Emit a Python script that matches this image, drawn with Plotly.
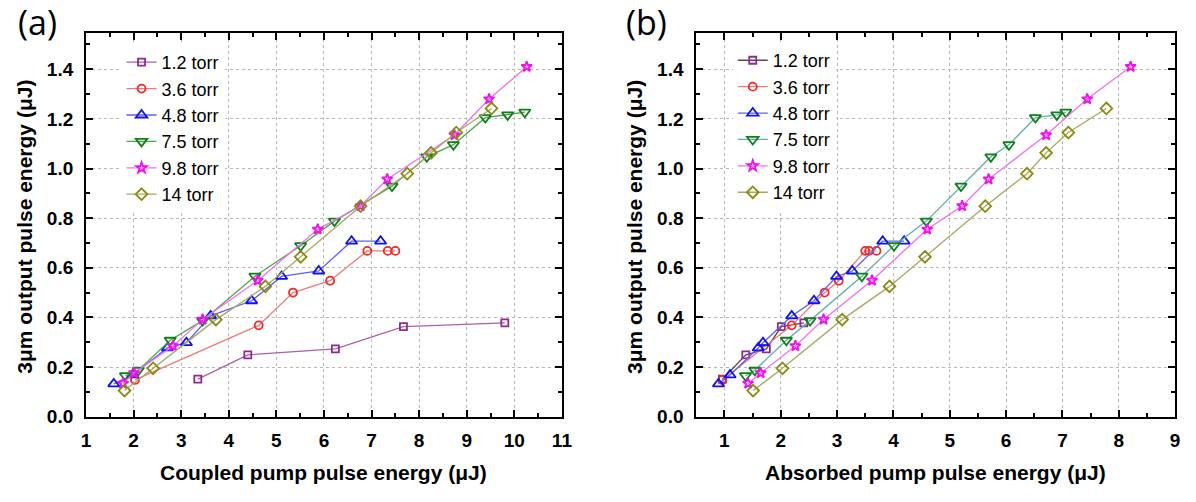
import plotly.graph_objects as go

# Output pulse energy (uJ) for each gas pressure
labels = ["1.2 torr", "3.6 torr", "4.8 torr", "7.5 torr", "9.8 torr", "14 torr"]

y_12 = [0.151, 0.249, 0.273, 0.363, 0.378]
y_36 = [0.148, 0.368, 0.500, 0.548, 0.668, 0.668, 0.668]
y_48 = [0.132, 0.168, 0.277, 0.298, 0.406, 0.467, 0.565, 0.587, 0.707, 0.707]
y_75 = [0.165, 0.187, 0.308, 0.387, 0.566, 0.689, 0.788, 0.929, 1.047, 1.096, 1.205, 1.216, 1.227]
y_98 = [0.134, 0.176, 0.285, 0.392, 0.549, 0.755, 0.849, 0.957, 1.135, 1.280, 1.410]
y_14 = [0.105, 0.195, 0.391, 0.525, 0.644, 0.848, 0.979, 1.063, 1.145, 1.242]

# Coupled pump pulse energy (uJ)
xa_12 = [3.35, 4.40, 6.24, 7.67, 9.80]
xa_36 = [2.03, 4.63, 5.35, 6.13, 6.91, 7.34, 7.50]
xa_48 = [1.585, 1.98, 2.71, 3.11, 3.62, 4.48, 5.11, 5.89, 6.58, 7.19]
xa_75 = [1.83, 2.10, 2.77, 3.45, 4.55, 5.51, 6.22, 7.43, 8.16, 8.72, 9.39, 9.86, 10.22]
xa_98 = [1.78, 2.01, 2.83, 3.45, 4.61, 5.87, 6.77, 7.33, 8.74, 9.47, 10.26]
xa_14 = [1.81, 2.41, 3.73, 4.77, 5.51, 6.77, 7.75, 8.25, 8.78, 9.52]

# Absorbed pump pulse energy (uJ)
xb_12 = [0.965, 1.38, 1.745, 2.01, 2.41]
xb_36 = [0.965, 2.195, 2.78, 3.03, 3.50, 3.57, 3.70]
xb_48 = [0.895, 1.10, 1.60, 1.685, 2.195, 2.59, 2.99, 3.27, 3.81, 4.19]
xb_75 = [1.375, 1.54, 2.10, 2.52, 3.44, 4.01, 4.585, 5.20, 5.73, 6.05, 6.52, 6.90, 7.06]
xb_98 = [1.42, 1.645, 2.26, 2.76, 3.62, 4.60, 5.22, 5.69, 6.71, 7.44, 8.21]
xb_14 = [1.51, 2.03, 3.09, 3.93, 4.56, 5.63, 6.37, 6.71, 7.105, 7.78]

x_ticks_a = [1, 2, 3, 4, 5, 6, 7, 8, 9, 10, 11]
x_ticks_b = [1, 2, 3, 4, 5, 6, 7, 8, 9]
y_ticks = [0.0, 0.2, 0.4, 0.6, 0.8, 1.0, 1.2, 1.4]

ys = [y_12, y_36, y_48, y_75, y_98, y_14]
xas = [xa_12, xa_36, xa_48, xa_75, xa_98, xa_14]
xbs = [xb_12, xb_36, xb_48, xb_75, xb_98, xb_14]

symbols = ["square-open", "circle-open", "triangle-up-open", "triangle-down-open",
           "star-open", "diamond-open"]
sizes = [7, 8, 10, 10, 8, 9]
marker_colors = ["#8E2C8E", "#F02828", "#1010F0", "#10801A", "#F010F0", "#8A8A10"]
line_colors_a = ["#A860A8", "#F07878", "#6060F0", "#4CA84C", "#F070F0", "#A8A860"]
line_colors_b = ["#5A465A", "#F07878", "#6060F0", "#62ADAD", "#F070F0", "#A8A860"]

fig = go.Figure()

for i in range(6):
    fig.add_trace(go.Scatter(
        x=xas[i], y=ys[i], name=labels[i], mode="lines+markers",
        line=dict(color=line_colors_a[i], width=1.3),
        marker=dict(symbol=symbols[i], size=sizes[i], color=marker_colors[i],
                    line=dict(width=1.8, color=marker_colors[i])),
        xaxis="x", yaxis="y", legend="legend",
    ))
for i in range(6):
    fig.add_trace(go.Scatter(
        x=xbs[i], y=ys[i], name=labels[i], mode="lines+markers",
        line=dict(color=line_colors_b[i], width=1.3),
        marker=dict(symbol=symbols[i], size=sizes[i], color=marker_colors[i],
                    line=dict(width=1.8, color=marker_colors[i])),
        xaxis="x2", yaxis="y2", legend="legend2",
    ))

W, H = 1196, 502
tick_font = dict(family="Liberation Sans, Arial", size=19, color="black")
title_font = dict(family="Liberation Sans, Arial", size=21, color="black")

def px_x(p):
    return p / W

def px_y(p):
    return 1 - p / H

common_axis = dict(
    showline=True, linecolor="black", linewidth=1.8, mirror="ticks",
    ticks="inside", ticklen=7, tickwidth=1.8, tickcolor="black",
    showgrid=True, gridcolor="#B8B8B8", griddash="dot", gridwidth=1,
    zeroline=False, tickfont=tick_font,
)

y_dom = [px_y(426), px_y(34)]

def minor(step, start):
    return dict(dtick=step, tick0=start, ticks="inside", ticklen=4, tickcolor="black",
                tickwidth=1.5, showgrid=False)

legend_font = dict(family="Liberation Sans, Arial", size=18, color="black")

fig.update_layout(
    width=W, height=H,
    margin=dict(l=0, r=0, t=0, b=0),
    paper_bgcolor="white", plot_bgcolor="white",
    xaxis=dict(domain=[px_x(82), px_x(564)], range=[1, 11], tickvals=x_ticks_a,
               ticktext=["<b>%d</b>" % v for v in x_ticks_a],
               minor=minor(0.5, 1), ticklabelstandoff=6,
               anchor="y", **common_axis),
    yaxis=dict(domain=y_dom, range=[0, 1.545], tickvals=y_ticks,
               ticktext=["<b>%.1f</b>" % v for v in y_ticks],
               minor=minor(0.1, 0), ticklabelstandoff=7,
               anchor="x", **common_axis),
    xaxis2=dict(domain=[px_x(700), px_x(1185)], range=[0.5, 9], tickvals=x_ticks_b,
                ticktext=["<b>%d</b>" % v for v in x_ticks_b],
                minor=minor(0.5, 0.5), ticklabelstandoff=6,
                anchor="y2", **common_axis),
    yaxis2=dict(domain=y_dom, range=[0, 1.545], tickvals=y_ticks,
                ticktext=["<b>%.1f</b>" % v for v in y_ticks],
                minor=minor(0.1, 0), ticklabelstandoff=7,
                anchor="x2", **common_axis),
    legend=dict(x=px_x(118), y=px_y(45), xanchor="left", yanchor="top",
                bgcolor="white", borderwidth=0, font=legend_font,
                tracegroupgap=0, itemwidth=30),
    legend2=dict(x=px_x(737), y=px_y(43), xanchor="left", yanchor="top",
                 bgcolor="white", borderwidth=0, font=legend_font,
                 tracegroupgap=0, itemwidth=30),
    showlegend=True,
)

annotations = [
    dict(text="<b>Coupled pump pulse energy (\u03bcJ)</b>", x=px_x(323), y=px_y(483),
         xref="paper", yref="paper", showarrow=False, font=title_font,
         xanchor="center", yanchor="middle"),
    dict(text="<b>Absorbed pump pulse energy (\u03bcJ)</b>", x=px_x(942), y=px_y(483),
         xref="paper", yref="paper", showarrow=False, font=title_font,
         xanchor="center", yanchor="middle"),
    dict(text="<b>3\u03bcm output pulse energy (\u03bcJ)</b>", x=px_x(20), y=px_y(232),
         xref="paper", yref="paper", showarrow=False, font=title_font, textangle=-90,
         xanchor="center", yanchor="middle"),
    dict(text="<b>3\u03bcm output pulse energy (\u03bcJ)</b>", x=px_x(638), y=px_y(232),
         xref="paper", yref="paper", showarrow=False, font=title_font, textangle=-90,
         xanchor="center", yanchor="middle"),
    dict(text="(a)", x=px_x(33), y=px_y(22), xref="paper", yref="paper", showarrow=False,
         font=dict(family="Open Sans, Liberation Sans", size=34, color="black"),
         xanchor="center", yanchor="middle"),
    dict(text="(b)", x=px_x(650), y=px_y(22), xref="paper", yref="paper", showarrow=False,
         font=dict(family="Open Sans, Liberation Sans", size=34, color="black"),
         xanchor="center", yanchor="middle"),
]
fig.update_layout(annotations=annotations)

fig.write_html("out.html")
